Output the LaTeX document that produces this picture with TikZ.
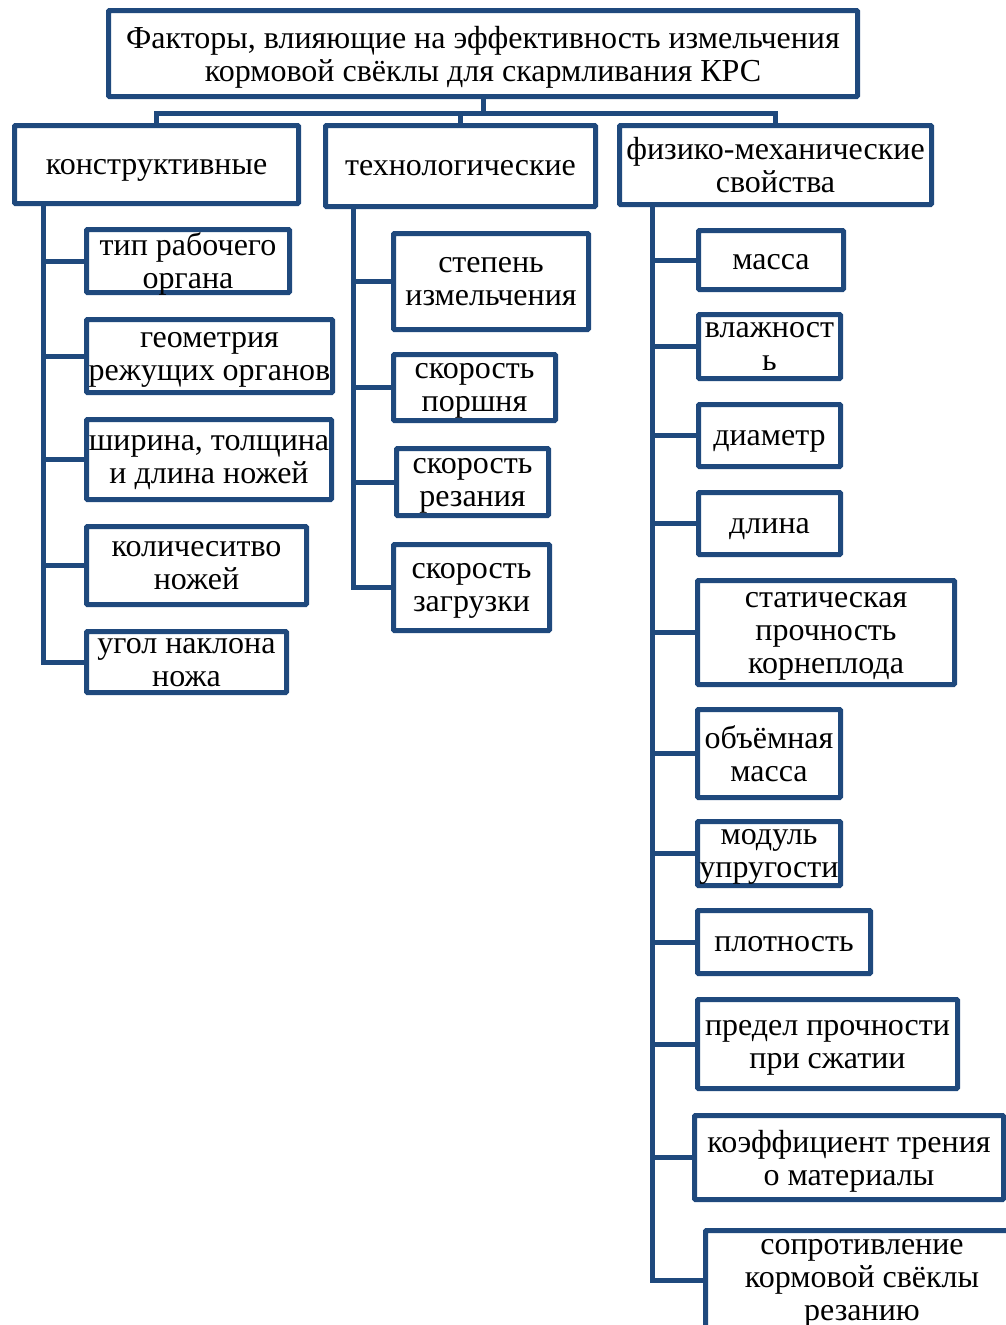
\documentclass[tikz,border=0pt]{standalone}
\usepackage{fontspec}
\setmainfont{Liberation Serif}
\usepackage{xcolor}
\usepackage{tikz}
\definecolor{boxblue}{RGB}{31, 73, 125}
\newcommand{\linestrut}{\rule{0pt}{19pt}}

\begin{document}
\begin{tikzpicture}[x = 1pt, y = -1pt,
	factor/.style = {draw = boxblue, line width = 5pt, fill = white, rounded corners = 1pt,
		inner xsep = 0pt, inner ysep = -12pt, align = center, font = \fontsize{32}{33}\selectfont,
		text depth = -3pt, execute at begin node = \linestrut},
	link/.style = {draw = boxblue, line width = 5pt}]
	\useasboundingbox (0,0) rectangle (1006,1325);
	\clip (0,0) rectangle (1006,1325);
	% top
	\node (top) at (483,53.5) [factor, minimum width = 749pt, minimum height = 86pt] {Факторы, влияющие на эффективность измельчения\\кормовой свёклы для скармливания КРС};
	\node (k) at (156.5,164.5) [factor, minimum width = 284pt, minimum height = 78pt] {конструктивные};
	\node (t) at (460.5,166) [factor, minimum width = 270pt, minimum height = 81pt] {технологические};
	\node (f) at (775.5,165) [factor, minimum width = 312pt, minimum height = 79pt] {физико-механические\\свойства};
	% konstruktivnye
	\node (k1) at (188,261) [factor, minimum width = 203pt, minimum height = 63pt] {тип рабочего\\органа};
	\node (k2) at (209.5,356) [factor, minimum width = 246pt, minimum height = 73pt] {геометрия\\режущих органов};
	\node (k3) at (209,459.5) [factor, minimum width = 245pt, minimum height = 80pt] {ширина, толщина\\и длина ножей};
	\node (k4) at (196.5,565.5) [factor, minimum width = 220pt, minimum height = 78pt] {количеситво\\ножей};
	\node (k5) at (186.5,662) [factor, minimum width = 200pt, minimum height = 61pt] {угол наклона\\ножа};
	% tekhnologicheskie
	\node (t1) at (491,281.5) [factor, minimum width = 195pt, minimum height = 96pt] {степень\\измельчения};
	\node (t2) at (474.5,387.5) [factor, minimum width = 162pt, minimum height = 66pt] {скорость\\поршня};
	\node (t3) at (472.5,482) [factor, minimum width = 152pt, minimum height = 67pt] {скорость\\резания};
	\node (t4) at (471.5,587.5) [factor, minimum width = 156pt, minimum height = 86pt] {скорость\\загрузки};
	% fiziko-mekhanicheskie
	\node (f1) at (771,260) [factor, minimum width = 145pt, minimum height = 59pt] {масса};
	\node (f2) at (769.5,346.5) [factor, minimum width = 142pt, minimum height = 64pt] {влажност\\ь};
	\node (f3) at (769.5,435.5) [factor, minimum width = 142pt, minimum height = 62pt] {диаметр};
	\node (f4) at (769.5,523.5) [factor, minimum width = 142pt, minimum height = 62pt] {длина};
	\node (f5) at (826,632.5) [factor, minimum width = 257pt, minimum height = 104pt] {статическая\\прочность\\корнеплода};
	\node (f6) at (769,753.5) [factor, minimum width = 143pt, minimum height = 88pt] {объёмная\\масса};
	\node (f7) at (769,853.5) [factor, minimum width = 143pt, minimum height = 64pt] {модуль\\упругости};
	\node (f8) at (784,942) [factor, minimum width = 173pt, minimum height = 63pt] {плотность};
	\node (f9) at (827.5,1044) [factor, minimum width = 260pt, minimum height = 89pt] {предел прочности\\при сжатии};
	\node (f10) at (849,1157.5) [factor, minimum width = 309pt, minimum height = 84pt] {коэффициент трения\\о материалы};
	\node (f11) at (862,1280) [factor, minimum width = 313pt, minimum height = 99pt] {сопротивление\\кормовой свёклы\\резанию};
	% connectors
	\coordinate (bus) at (483,113);
	\coordinate (kt) at (43,0);
	\coordinate (tt) at (353,0);
	\coordinate (ft) at (652,0);
	\foreach \g in {k,t,f}
		\draw [link] (top.south) |- (\g.north |- bus) -- (\g.north);
	\foreach \c in {k1,k2,k3,k4,k5}
		\draw [link] (kt |- k.south) |- (\c.west);
	\foreach \c in {t1,t2,t3,t4}
		\draw [link] (tt |- t.south) |- (\c.west);
	\foreach \c in {f1,f2,f3,f4,f5,f6,f7,f8,f9,f10,f11}
		\draw [link] (ft |- f.south) |- (\c.west);
\end{tikzpicture}
\end{document}
